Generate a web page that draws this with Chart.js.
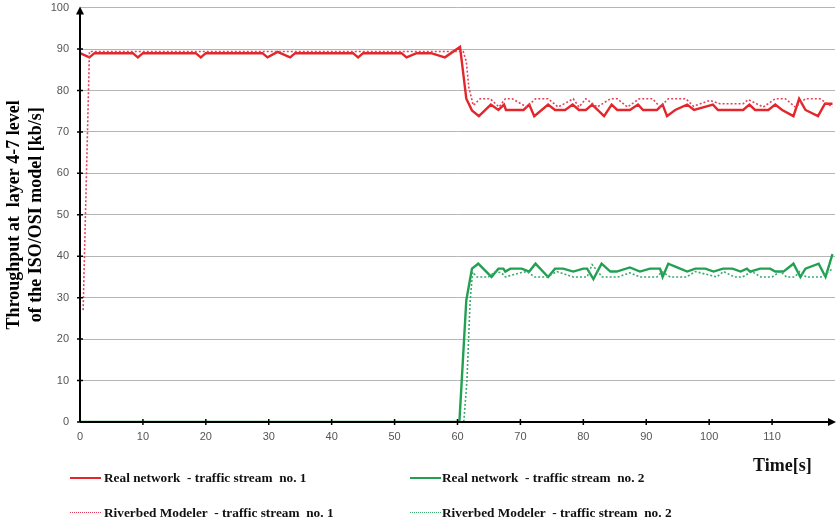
<!DOCTYPE html>
<html lang="en">
<head>
  <meta charset="UTF-8">
  <title>Throughput at layer 4-7</title>
  <script src="https://cdn.jsdelivr.net/npm/chart.js"></script>
  <style>
    html, body { margin: 0; padding: 0; background: #fff; }
    .wrap { position: relative; width: 838px; height: 525px; overflow: hidden; }
    canvas { position: absolute; left: 0; top: -10px; }
    .leg {
      position: absolute;
      font-family: 'Liberation Serif', 'Times New Roman', serif;
      font-weight: bold;
      font-size: 13.3px;
      color: #111;
      white-space: pre;
      line-height: 18px;
    }
    .swatch { position: absolute; width: 31px; height: 0; }
    .time {
      position: absolute; left: 753px; top: 455px;
      font-family: 'Liberation Serif', 'Times New Roman', serif;
      font-weight: bold; font-size: 18px; color: #111;
    }
  </style>
</head>
<body>
  <div class="wrap">
    <canvas id="chart" width="843" height="535"></canvas>
    <div class="swatch" style="left:70px;top:477px;border-top:2.5px solid #e3262b"></div>
    <div class="leg" style="left:104px;top:469px">Real network  - traffic stream  no. 1</div>
    <div class="swatch" style="left:410px;top:477px;border-top:2.5px solid #22a052"></div>
    <div class="leg" style="left:442px;top:469px">Real network  - traffic stream  no. 2</div>
    <div class="swatch" style="left:70px;top:512px;border-top:1.5px dotted #e5405a"></div>
    <div class="leg" style="left:104px;top:504px">Riverbed Modeler  - traffic stream  no. 1</div>
    <div class="swatch" style="left:410px;top:512px;border-top:1.5px dotted #3aaa6e"></div>
    <div class="leg" style="left:442px;top:504px">Riverbed Modeler  - traffic stream  no. 2</div>
    <div class="time">Time[s]</div>
  </div>

  <script>
    // time [s] and throughput [kb/s]
    const tReal1 = [0, 1.5, 2.3, 8.4, 9.2, 10.0, 18.4, 19.2, 20.0, 29.0, 29.8, 31.4, 33.4, 34.2, 43.4, 44.2, 45.0,
      51.1, 51.9, 53.5, 55.8, 58.0, 60.4, 61.4, 62.3, 63.4, 65.3, 66.5, 67.4, 67.7, 70.5, 71.4, 72.2, 74.4, 75.5,
      77.1, 78.3, 79.3, 80.4, 81.4, 83.3, 84.5, 85.4, 87.4, 88.7, 89.5, 91.7, 92.6, 93.3, 94.6, 96.5, 97.6, 100.6,
      101.4, 105.4, 106.4, 107.3, 109.4, 110.5, 111.6, 113.4, 114.3, 115.3, 117.3, 118.4, 119.6];
    const vReal1 = [89, 88, 89, 89, 88, 89, 89, 88, 89, 89, 88, 89.3, 88, 89, 89, 88, 89,
      89, 88, 89, 89, 88, 90.5, 78, 75.2, 73.8, 76.6, 75.3, 76.6, 75.3, 75.3, 76.6, 73.8, 76.6, 75.3,
      75.3, 76.6, 75.3, 75.3, 76.6, 73.8, 76.6, 75.3, 75.3, 76.6, 75.3, 75.3, 76.6, 73.8, 75.3, 76.6, 75.3, 76.6,
      75.3, 75.3, 76.6, 75.3, 75.3, 76.6, 75.3, 73.8, 78, 75.3, 73.8, 76.8, 76.8];

    const tModel1 = [0.5, 1.5, 60.9, 61.4, 61.8, 62.5, 63.6, 65.2, 66.6, 67.6, 68.7, 71.0, 72.4, 74.4, 76.0, 78.4,
      79.3, 80.4, 82.2, 84.3, 85.4, 87.0, 88.9, 91.0, 92.2, 93.5, 96.3, 97.5, 100.1, 101.7, 105.4, 106.2, 108.6,
      110.5, 112.1, 113.7, 115.3, 117.6, 119.6];
    const vModel1 = [27, 89.4, 89.4, 87, 80.8, 76.4, 78, 78, 76, 78, 78, 76, 78, 78, 76, 78,
      76, 78, 76, 78, 78, 76, 78, 78, 76, 78, 78, 76.2, 77.6, 76.8, 76.8, 77.8, 76,
      78, 78, 76, 78, 78, 76];

    const tReal2 = [0, 60.3, 61.4, 62.3, 63.3, 65.4, 66.5, 67.3, 67.6, 68.4, 70.2, 71.4, 72.4, 74.4, 75.5, 76.8,
      78.4, 80.0, 80.6, 81.6, 82.9, 84.3, 85.3, 87.4, 89.0, 90.6, 92.2, 92.6, 93.5, 94.9, 96.5, 97.8, 99.4,
      100.7, 102.2, 103.7, 105.0, 106.0, 106.5, 108.1, 109.7, 110.5, 111.8, 113.4, 114.5, 115.3, 117.4, 118.5, 119.6];
    const vReal2 = [0, 0, 29.4, 37, 38.2, 35, 37, 37, 36.3, 37, 37, 36.3, 38.2, 35, 37, 37,
      36.3, 37, 37, 34.5, 38.2, 36.3, 36.3, 37.3, 36.3, 37, 37, 35, 38.2, 37.3, 36.3, 37, 37,
      36.3, 37, 37, 36.3, 37, 36.3, 37, 37, 36.3, 36.3, 38.2, 35, 37, 38.2, 35, 40.5];

    const tModel2 = [0, 61.0, 61.5, 62.0, 62.4, 63.1, 64.9, 66.0, 67.0, 67.6, 70.0, 71.0, 72.3, 74.2, 75.8, 78.4,
      80.6, 81.4, 83.0, 85.5, 87.4, 89.0, 91.7, 92.5, 93.8, 96.4, 97.8, 101.2, 102.3, 104.0, 105.3, 106.8,
      108.2, 110.0, 111.3, 112.3, 113.6, 114.4, 115.4, 117.8, 119.6];
    const vModel2 = [0, 0, 10, 29, 36.2, 35, 35, 36.3, 36, 35, 36, 36.3, 35, 35, 36.3, 35,
      35, 38, 35, 35, 36, 35, 35, 36.3, 35, 35, 36.3, 35, 36.3, 35, 35, 36.3,
      35, 35, 36.3, 35, 35, 36.3, 35, 35, 37];

    const yTitle = ['Throughput at  layer 4-7 level', 'of the ISO/OSI model [kb/s]'];

    function pts(t, v) { return t.map((x, i) => ({ x: x, y: v[i] })); }

    // black axes with arrow heads and crossing tick marks
    const axesPlugin = {
      id: 'axes',
      afterDatasetsDraw(chart) {
        const c = chart.ctx, xs = chart.scales.x, ys = chart.scales.y;
        const x0 = xs.getPixelForValue(0), y0 = ys.getPixelForValue(0);
        const xEnd = xs.getPixelForValue(120) - 1, yTop = ys.getPixelForValue(100);
        c.save();
        c.strokeStyle = '#000'; c.fillStyle = '#000'; c.lineWidth = 2;
        c.beginPath();
        c.moveTo(x0, y0); c.lineTo(xEnd - 4, y0);
        c.moveTo(x0, y0); c.lineTo(x0, yTop + 4);
        c.stroke();
        c.beginPath();
        c.moveTo(xEnd + 2, y0); c.lineTo(xEnd - 6, y0 - 4); c.lineTo(xEnd - 6, y0 + 4); c.closePath();
        c.moveTo(x0, yTop - 1); c.lineTo(x0 - 4, yTop + 7); c.lineTo(x0 + 4, yTop + 7); c.closePath();
        c.fill();
        c.lineWidth = 1.5;
        c.beginPath();
        for (let v = 10; v <= 110; v += 10) {
          const p = xs.getPixelForValue(v);
          c.moveTo(p, y0 - 3); c.lineTo(p, y0 + 3);
        }
        for (let v = 0; v <= 90; v += 10) {
          const p = ys.getPixelForValue(v);
          c.moveTo(x0 - 3, p); c.lineTo(x0 + 3, p);
        }
        c.stroke();
        c.restore();
      }
    };

    const tickFont = { family: "'Liberation Sans', Arial, sans-serif", size: 11 };

    new Chart(document.getElementById('chart'), {
      type: 'line',
      data: {
        datasets: [
          { label: 'Riverbed Modeler - traffic stream no. 1', data: pts(tModel1, vModel1),
            borderColor: '#e5405a', borderWidth: 1.6, borderDash: [2, 2] },
          { label: 'Riverbed Modeler - traffic stream no. 2', data: pts(tModel2, vModel2),
            borderColor: '#3aaa6e', borderWidth: 1.6, borderDash: [2, 2] },
          { label: 'Real network - traffic stream no. 1', data: pts(tReal1, vReal1),
            borderColor: '#e3262b', borderWidth: 2.4 },
          { label: 'Real network - traffic stream no. 2', data: pts(tReal2, vReal2),
            borderColor: '#22a052', borderWidth: 2.4 }
        ]
      },
      options: {
        responsive: false,
        animation: false,
        devicePixelRatio: 1,
        elements: { point: { radius: 0 }, line: { tension: 0, fill: false } },
        layout: { padding: { top: 7, right: 4, left: 0, bottom: 0 } },
        plugins: { legend: { display: false }, tooltip: { enabled: false } },
        scales: {
          x: {
            type: 'linear', min: 0, max: 120,
            grid: { display: false, drawTicks: false },
            border: { display: false },
            ticks: { stepSize: 10, color: '#555', font: tickFont, padding: 8, maxRotation: 0,
              callback: v => (v >= 120 ? '' : v) },
            afterFit: s => { s.height = 103; }
          },
          y: {
            min: 0, max: 100,
            grid: { color: '#b5b5b5', lineWidth: 1, drawTicks: false },
            border: { display: false },
            ticks: { stepSize: 10, color: '#555', font: tickFont, padding: 11 },
            title: {
              display: true, text: yTitle, color: '#000',
              font: { family: "'Liberation Serif', 'Times New Roman', serif", size: 18, weight: 'bold', lineHeight: 1.22 },
              padding: { top: 3, bottom: 0 }
            },
            afterFit: s => { s.width = 80; }
          }
        }
      },
      plugins: [axesPlugin]
    });
  </script>
</body>
</html>
